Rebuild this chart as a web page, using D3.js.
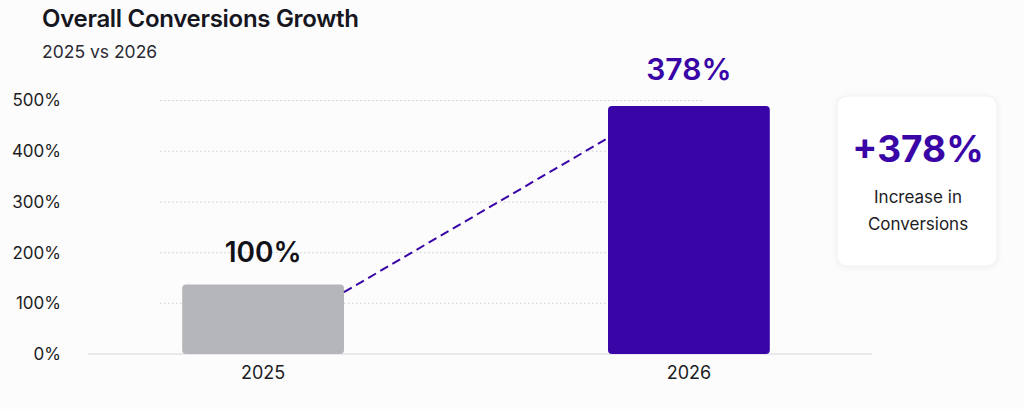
<!DOCTYPE html>
<html lang="en">
<head>
    <meta charset="UTF-8" />
    <title>Overall Conversions Growth</title>
    <script src="https://d3js.org/d3.v7.min.js"></script>
    <style>
        body {
            margin: 0;
            background: #fcfcfc;
            font-family: Inter, "Noto Sans", sans-serif;
        }
        svg { display: block; }
    </style>
</head>
<body>
<div id="chart"></div>
<script>
    // Data
    const categories = ["2025", "2026"];
    const barValues = [137, 489];          // drawn bar heights (%)
    const barLabels = ["100%", "378%"];    // labels printed above bars
    const connectorValues = [122, 426];    // dashed line ends (%)
    const yTicks = [0, 100, 200, 300, 400, 500];
    const calloutValue = "+378%";
    const calloutText = ["Increase in", "Conversions"];

    const width = 1024, height = 409;
    const purple = "#3a05a6";
    const grey = "#b5b6b9";

    const svg = d3.select("#chart").append("svg")
        .attr("width", width)
        .attr("height", height);

    // Title
    svg.append("text")
        .attr("x", 42).attr("y", 27)
        .attr("font-size", 24).attr("font-weight", 600)
        .attr("fill", "#16161f")
        .attr("letter-spacing", "-0.3")
        .text("Overall Conversions Growth");
    svg.append("text")
        .attr("x", 42).attr("y", 58)
        .attr("font-size", 17.5)
        .attr("fill", "#2a2a33")
        .text("2025 vs 2026");

    // Scales
    const x = d3.scaleBand().domain(categories)
        .range([80, 872]).paddingInner(0.62).paddingOuter(0.24);
    const y = d3.scaleLinear().domain([0, 500]).range([354, 100.5]);

    // Gridlines (dotted)
    svg.append("g")
        .selectAll("line")
        .data(yTicks.filter(d => d > 0))
        .join("line")
        .attr("x1", 160).attr("x2", 703)
        .attr("y1", d => y(d)).attr("y2", d => y(d))
        .attr("stroke", "#cfcfd4")
        .attr("stroke-width", 1)
        .attr("stroke-dasharray", "1.5,2.5");

    // Baseline
    svg.append("line")
        .attr("x1", 88).attr("x2", 872)
        .attr("y1", y(0)).attr("y2", y(0))
        .attr("stroke", "#e3e3e8").attr("stroke-width", 1.5);

    // Y axis
    const yAxis = svg.append("g")
        .attr("transform", "translate(61,0)")
        .call(d3.axisLeft(y).tickValues(yTicks).tickFormat(d => d + "%").tickSize(0).tickPadding(0));
    yAxis.select(".domain").remove();
    yAxis.selectAll("text")
        .attr("font-family", "Inter, sans-serif")
        .attr("font-size", 17)
        .attr("fill", "#1c1c24");

    // X axis
    const xAxis = svg.append("g")
        .attr("transform", `translate(0,${y(0)})`)
        .call(d3.axisBottom(x).tickSize(0).tickPadding(12));
    xAxis.select(".domain").remove();
    xAxis.selectAll("text")
        .attr("font-family", "Inter, sans-serif")
        .attr("font-size", 18)
        .attr("fill", "#1c1c24");

    // Bars
    const colors = [grey, purple];
    svg.append("g")
        .selectAll("rect")
        .data(categories)
        .join("rect")
        .attr("x", d => x(d))
        .attr("y", (d, i) => y(barValues[i]))
        .attr("width", x.bandwidth())
        .attr("height", (d, i) => y(0) - y(barValues[i]))
        .attr("rx", 4)
        .attr("fill", (d, i) => colors[i]);

    // Dashed connector
    svg.append("line")
        .attr("x1", x(categories[0]) + x.bandwidth())
        .attr("y1", y(connectorValues[0]))
        .attr("x2", x(categories[1]))
        .attr("y2", y(connectorValues[1]))
        .attr("stroke", purple)
        .attr("stroke-width", 2)
        .attr("stroke-dasharray", "9,5");

    // Bar labels
    const labelY = [262, 80];
    svg.append("g")
        .selectAll("text")
        .data(categories)
        .join("text")
        .attr("x", d => x(d) + x.bandwidth() / 2)
        .attr("y", (d, i) => labelY[i])
        .attr("text-anchor", "middle")
        .attr("font-size", (d, i) => i === 0 ? 28 : 30)
        .attr("font-weight", 600)
        .attr("fill", (d, i) => i === 0 ? "#111118" : purple)
        .text((d, i) => barLabels[i]);

    // Callout card
    const defs = svg.append("defs");
    const filter = defs.append("filter").attr("id", "shadow")
        .attr("x", "-20%").attr("y", "-20%").attr("width", "140%").attr("height", "140%");
    filter.append("feDropShadow")
        .attr("dx", 0).attr("dy", 1).attr("stdDeviation", 3)
        .attr("flood-color", "#000").attr("flood-opacity", 0.06);

    const card = svg.append("g").attr("transform", "translate(837,96)");
    card.append("rect")
        .attr("width", 160).attr("height", 170)
        .attr("rx", 10)
        .attr("fill", "#ffffff")
        .attr("stroke", "#f1f1f4")
        .attr("filter", "url(#shadow)");
    card.append("text")
        .attr("x", 81).attr("y", 66)
        .attr("text-anchor", "middle")
        .attr("font-size", 37).attr("font-weight", 700)
        .attr("fill", purple)
        .text(calloutValue);
    card.selectAll("text.sub")
        .data(calloutText)
        .join("text")
        .attr("class", "sub")
        .attr("x", 81)
        .attr("y", (d, i) => 107 + i * 27)
        .attr("text-anchor", "middle")
        .attr("font-size", 17)
        .attr("fill", "#1c1c24")
        .text(d => d);
</script>
</body>
</html>
